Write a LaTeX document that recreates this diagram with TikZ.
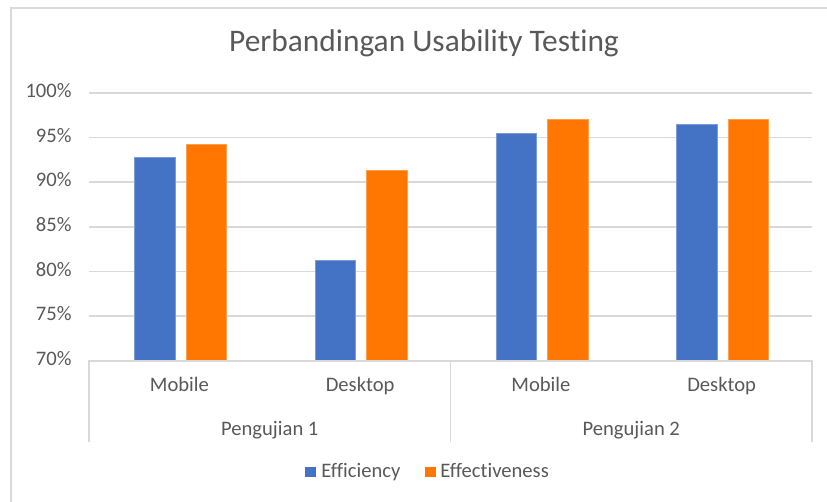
\documentclass[tikz,border=0pt]{standalone}
\usepackage{fontspec}
\setmainfont{Carlito}[Ligatures=NoCommon]
\usepackage{tikz}
\usetikzlibrary{positioning}
\definecolor{effblue}{HTML}{4472C4}
\definecolor{efforange}{HTML}{FF7700}
\definecolor{gridgray}{HTML}{D9D9D9}
\definecolor{txtgray}{HTML}{595959}
\tikzset{
	grd/.style={draw=gridgray, line width=0.9pt},
	frm/.style={draw=gridgray, line width=1pt},
	lbl/.style={font=\fontsize{10.3}{12}\selectfont, text=txtgray, inner sep=0pt,
		text height=6.6pt, text depth=1.9pt},
	ttl/.style={font=\fontsize{15.7}{18}\selectfont, text=txtgray, inner sep=0pt,
		text height=10pt, text depth=3pt},
	effi/.style={fill=effblue, draw=effblue!70!white, line width=0.3pt},
	effe/.style={fill=efforange, draw=efforange!70!white, line width=0.3pt},
	key/.style={draw=none, inner sep=0pt, minimum width=5.5pt, minimum height=5pt},
}
\begin{document}
% 1 unit = 1 px of the chart, y runs downwards; bar top = 93+(100-v)*8.93
\begin{tikzpicture}[x=0.5pt, y=-0.5pt]
	\useasboundingbox (0,0) rectangle (827,502);
	\draw[frm] (11,502) -- (11,8) -- (827,8);
	\node[ttl] at (424,45) (title) {Perbandingan Usability Testing};
	% grid
	\draw[grd] (89,93.0) -- (812,93.0);
	\draw[grd] (89,137.6) -- (812,137.6);
	\draw[grd] (89,182.2) -- (812,182.2);
	\draw[grd] (89,226.9) -- (812,226.9);
	\draw[grd] (89,271.5) -- (812,271.5);
	\draw[grd] (89,316.2) -- (812,316.2);
	\node[lbl, anchor=east] at (72,93.0) (y100) {100\%};
	\node[lbl, anchor=east] at (72,137.6) (y95) {95\%};
	\node[lbl, anchor=east] at (72,182.2) (y90) {90\%};
	\node[lbl, anchor=east] at (72,226.9) (y85) {85\%};
	\node[lbl, anchor=east] at (72,271.5) (y80) {80\%};
	\node[lbl, anchor=east] at (72,316.2) (y75) {75\%};
	\node[lbl, anchor=east] at (72,360.8) (y70) {70\%};
	% bars
	\draw[effi] (134.4,360.8) rectangle (174.9,{93+(100-92.8)*8.93});
	\draw[effe] (185.9,360.8) rectangle (226.4,{93+(100-94.2)*8.93});
	\draw[effi] (315.1,360.8) rectangle (355.6,{93+(100-81.3)*8.93});
	\draw[effe] (366.6,360.8) rectangle (407.1,{93+(100-91.3)*8.93});
	\draw[effi] (495.9,360.8) rectangle (536.4,{93+(100-95.5)*8.93});
	\draw[effe] (547.4,360.8) rectangle (587.9,{93+(100-97.0)*8.93});
	\draw[effi] (676.6,360.8) rectangle (717.1,{93+(100-96.5)*8.93});
	\draw[effe] (728.1,360.8) rectangle (768.6,{93+(100-97.1)*8.93});
	% category axis
	\draw[grd] (89,442) -- (89,360.8) -- (812,360.8) -- (812,442);
	\draw[grd] (450.5,360.8) -- (450.5,442);
	\node[lbl] at (179.4,387) (mob1) {Mobile};
	\node[lbl] at (360.1,387) (desk1) {Desktop};
	\node[lbl] at (540.9,387) (mob2) {Mobile};
	\node[lbl] at (721.6,387) (desk2) {Desktop};
	\node[lbl] at (269.8,431) (uji1) {Pengujian 1};
	\node[lbl] at (631.3,431) (uji2) {Pengujian 2};
	% legend
	\node[key, fill=effblue] at (310.5,472.5) (kefi) {};
	\node[lbl, anchor=west] at (321,472.5) (lefi) {Efficiency};
	\node[key, fill=efforange] at (430,472.5) (kefe) {};
	\node[lbl, anchor=west] at (440,472.5) (lefe) {Effectiveness};
\end{tikzpicture}
\end{document}
